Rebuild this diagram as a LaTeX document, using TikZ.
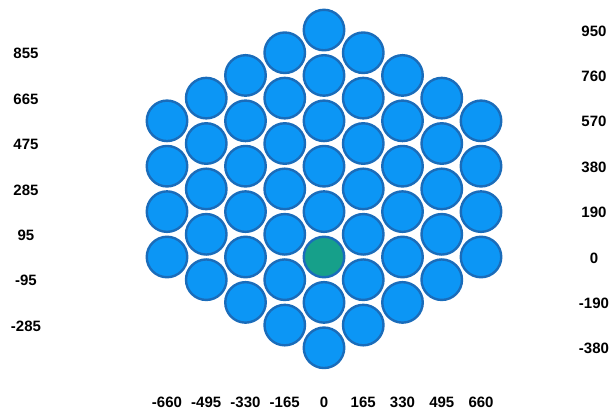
\documentclass[tikz,border=0pt]{standalone}
\usepackage{fontspec}
\setmainfont{Liberation Sans}
\definecolor{cellblue}{RGB}{12,150,245}
\definecolor{cellborder}{RGB}{26,108,186}
\definecolor{cellgreen}{RGB}{22,160,138}
\begin{document}
\begin{tikzpicture}[x=1pt,y=-1pt,
  cell/.style={circle,draw=cellborder,fill=cellblue,line width=2.4pt,minimum size=40.5pt,inner sep=0pt},
  lbl/.style={font=\bfseries\fontsize{15}{17}\selectfont,inner sep=0pt}]
\useasboundingbox (0,0) rectangle (615,409);
\foreach \k in {-4,...,4} {
  \pgfmathtruncatemacro\n{8-abs(\k)}
  \pgfmathtruncatemacro\tv{950-95*abs(\k)}
  \foreach \i in {1,...,\n} {
    \pgfmathsetmacro\v{\tv-190*(\i-1)}
    \ifnum\k=0 \ifnum\i=6 \def\fc{cellgreen}\else\def\fc{cellblue}\fi\else\def\fc{cellblue}\fi
    \node[cell,fill=\fc] (c\k-\i) at ({324+\k*39.25},{257-\v*0.2389}) {};
  }
}
\foreach \v [count=\j] in {855,665,475,285,95,-95,-285}
  \node[lbl] (l\j) at (26,{258-\v*0.2389}) {\v};
\foreach \v [count=\j] in {950,760,570,380,190,0,-190,-380}
  \node[lbl] (r\j) at (594,{258-\v*0.2389}) {\v};
\foreach \u [count=\j] in {-660,-495,-330,-165,0,165,330,495,660}
  \node[lbl] (b\j) at ({324+\u*0.2379},402) {\u};
\end{tikzpicture}
\end{document}
